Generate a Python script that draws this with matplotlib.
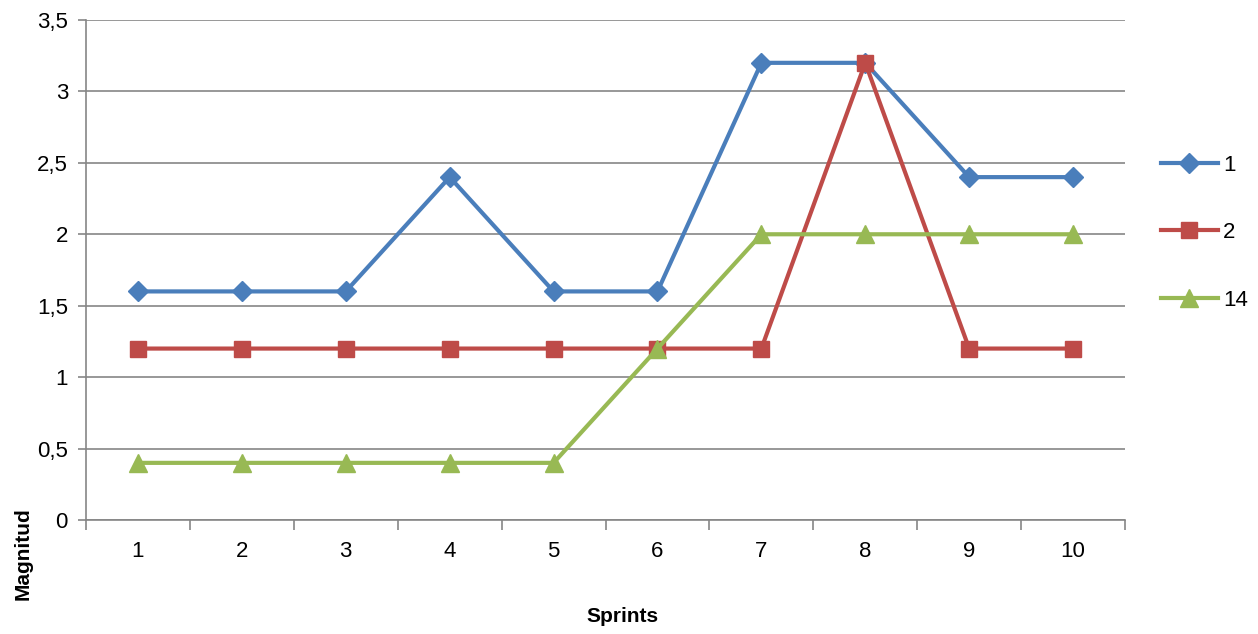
import matplotlib.pyplot as plt
import numpy as np

plt.rcParams['font.family'] = ['Liberation Sans', 'DejaVu Sans']

# datos
sprints = [1, 2, 3, 4, 5, 6, 7, 8, 9, 10]
serie_1 = [1.6, 1.6, 1.6, 2.4, 1.6, 1.6, 3.2, 3.2, 2.4, 2.4]
serie_2 = [1.2, 1.2, 1.2, 1.2, 1.2, 1.2, 1.2, 3.2, 1.2, 1.2]
serie_14 = [0.4, 0.4, 0.4, 0.4, 0.4, 1.2, 2.0, 2.0, 2.0, 2.0]
etiquetas = ['1', '2', '14']
y_ticks = [0, 0.5, 1, 1.5, 2, 2.5, 3, 3.5]
y_labels = ['0', '0,5', '1', '1,5', '2', '2,5', '3', '3,5']

c_azul = '#4A7EBB'
c_rojo = '#BE4B48'
c_verde = '#98B954'
c_gris = '#868686'

fig = plt.figure(figsize=(12.58, 6.34), dpi=100)
ax = fig.add_axes([0.0684, 0.1798, 0.8259, 0.7887])

ax.plot(sprints, serie_1, color=c_azul, linewidth=3, marker='D', markersize=10,
        label=etiquetas[0])
ax.plot(sprints, serie_2, color=c_rojo, linewidth=3, marker='s', markersize=12,
        label=etiquetas[1])
ax.plot(sprints, serie_14, color=c_verde, linewidth=3, marker='^', markersize=13,
        label=etiquetas[2])

ax.set_xlim(0.5, 10.5)
ax.set_ylim(0, 3.5)
ax.set_yticks(y_ticks)
ax.set_yticklabels(y_labels)
ax.set_xticks(sprints)
ax.set_xticks(np.arange(0.5, 11, 1), minor=True)

ax.grid(True, axis='y', color=c_gris, linewidth=1.2)
ax.set_axisbelow(True)

for s in ['top', 'right']:
    ax.spines[s].set_visible(False)
for s in ['left', 'bottom']:
    ax.spines[s].set_color(c_gris)
    ax.spines[s].set_linewidth(1.2)

ax.tick_params(axis='y', which='major', length=6, color=c_gris, width=1.2,
               labelsize=16, pad=7)
ax.tick_params(axis='x', which='major', length=0, labelsize=16, pad=15)
ax.tick_params(axis='x', which='minor', length=7, color=c_gris, width=1.2)

fig.text(0.495, 0.027, 'Sprints', fontsize=15, fontweight='bold',
         ha='center', va='center')
fig.text(0.018, 0.053, 'Magnitud', fontsize=15, fontweight='bold',
         rotation=90, ha='center', va='bottom')

ax.legend(loc='center left', bbox_to_anchor=(0.9155, 0.633),
          bbox_transform=fig.transFigure, frameon=False, fontsize=16,
          handlelength=2.6, labelspacing=2.1, handletextpad=0.2,
          borderaxespad=0)

plt.savefig('out.png', dpi=100)
